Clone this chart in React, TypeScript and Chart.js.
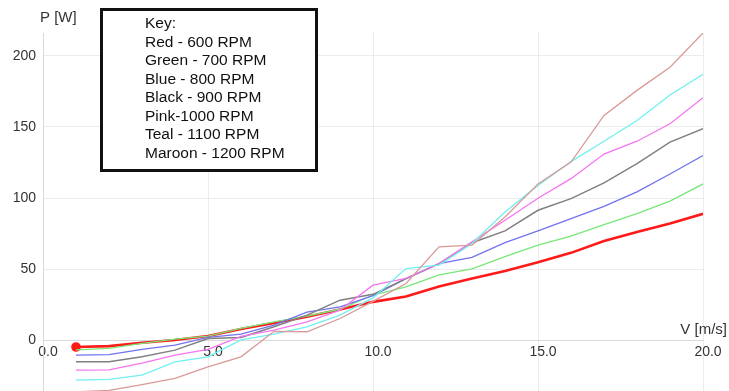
import React, { useEffect, useRef } from "react";
import { Chart, registerables } from "chart.js";

Chart.register(...registerables);

// Wind speed V [m/s]
const speeds = [1, 2, 3, 4, 5, 6, 7, 8, 9, 10, 11, 12, 13, 14, 15, 16, 17, 18, 19, 20];

// Power P [W] per rotor speed
const rpm600 = [-4.5, -3.9, -1.5, 0.4, 3.2, 8.1, 12.3, 16.7, 21.8, 27.2, 31, 38, 43.6, 48.8, 55, 61.6, 70, 76.3, 82.2, 89];
const rpm700 = [-6.5, -5.5, -2, 1, 3.2, 8.5, 13.2, 17.2, 22, 32, 37.7, 46.2, 50.3, 59, 67, 73.3, 81.5, 89.2, 98, 110];
const rpm800 = [-10.2, -9.8, -6.2, -3.2, 2.2, 4.5, 10.9, 20, 23.7, 31.5, 43.5, 54.1, 58.5, 68.8, 77, 85.7, 94.3, 104.4, 117, 130];
const rpm900 = [-14.8, -14.8, -11.3, -6.7, 1.5, 2.2, 9.7, 17.9, 28.4, 32.5, 43.5, 54, 68.7, 77, 91.5, 99.7, 110.7, 124.3, 139.4, 148.8];
const rpm1000 = [-20.7, -20.5, -15.9, -10.2, -6.2, 3, 7.4, 13.2, 21.4, 38.9, 43.6, 54.1, 69.3, 84.5, 100, 113.7, 131, 140, 152.3, 170.5];
const rpm1100 = [-27.7, -27.2, -24.2, -14.9, -11.4, 0.5, 4.6, 9.7, 17.9, 30, 50.6, 53, 68.2, 90.3, 109, 125.7, 140, 154.6, 172.5, 187];
const rpm1200 = [-36, -35, -31, -26.5, -18.4, -11.4, 6.5, 6.2, 15.5, 27.5, 40.1, 65.8, 67, 86.8, 110, 125.4, 158.1, 175.7, 192, 216];

const seriesNames = ["600 RPM", "700 RPM", "800 RPM", "900 RPM", "1000 RPM", "1100 RPM", "1200 RPM"];
const seriesValues = [rpm600, rpm700, rpm800, rpm900, rpm1000, rpm1100, rpm1200];
const seriesColors = ["#ff1a1a", "#78e878", "#7272f0", "#808080", "#f575f0", "#70f0f0", "#d99a98"];
const seriesWidths = [2.6, 1.3, 1.3, 1.5, 1.3, 1.3, 1.3];

const yTicks = [0, 50, 100, 150, 200];
const xTicks = [0, 5, 10, 15, 20];

const keyLines = [
  "Key:",
  "Red - 600 RPM",
  "Green - 700 RPM",
  "Blue - 800 RPM",
  "Black - 900 RPM",
  "Pink-1000 RPM",
  "Teal - 1100 RPM",
  "Maroon - 1200 RPM",
];

const yTitle = "P [W]";
const xTitle = "V [m/s]";

const FONT = "'Liberation Sans', Arial, sans-serif";

const overlayPlugin = {
  id: "overlay",
  afterDraw(chart: any) {
    const ctx = chart.ctx as CanvasRenderingContext2D;
    ctx.save();
    // axis titles
    ctx.fillStyle = "#333333";
    ctx.font = `15px ${FONT}`;
    ctx.textBaseline = "middle";
    ctx.textAlign = "left";
    ctx.fillText(yTitle, 40, 18);
    ctx.textAlign = "right";
    ctx.fillText(xTitle, 727, 330);

    // key box
    ctx.fillStyle = "#ffffff";
    ctx.fillRect(101, 9, 216, 162);
    ctx.strokeStyle = "#111111";
    ctx.lineWidth = 3;
    ctx.strokeRect(101.5, 9.5, 215, 161);
    ctx.fillStyle = "#111111";
    ctx.font = `15.5px ${FONT}`;
    ctx.textAlign = "left";
    ctx.textBaseline = "middle";
    keyLines.forEach((t, i) => {
      ctx.fillText(t, 145, 24 + i * 18.5);
    });
    ctx.restore();
  },
};

export default function App() {
  const ref = useRef<HTMLCanvasElement | null>(null);

  useEffect(() => {
    if (!ref.current) return;
    const datasets = seriesValues.map((vals, si) => ({
      label: seriesNames[si],
      data: vals.map((y, i) => ({ x: speeds[i], y })),
      borderColor: seriesColors[si],
      backgroundColor: seriesColors[si],
      borderWidth: seriesWidths[si],
      pointRadius: si === 0 ? (c: any) => (c.dataIndex === 0 ? 3.5 : 0) : 0,
      pointHoverRadius: 0,
      tension: 0,
      fill: false,
      order: 7 - si,
    }));

    const tickFont = { family: FONT, size: 14 };
    const chart = new Chart(ref.current, {
      type: "line",
      data: { datasets },
      plugins: [overlayPlugin],
      options: {
        responsive: false,
        animation: false,
        layout: { autoPadding: false, padding: { top: 33, right: 26, bottom: 0, left: 0 } },
        plugins: { legend: { display: false }, tooltip: { enabled: false } },
        scales: {
          x: {
            type: "linear",
            position: { y: 0 } as any,
            min: 0,
            max: 20,
            afterBuildTicks: (s: any) => {
              s.ticks = xTicks.map((v) => ({ value: v }));
            },
            afterFit: (s: any) => {
              s.height = 0;
              s.paddingTop = 0;
              s.paddingBottom = 0;
            },
            ticks: {
              font: tickFont,
              color: "#333333",
              padding: 3,
              labelOffset: 5,
              maxRotation: 0,
              autoSkip: false,
              callback: (v: any) => Number(v).toFixed(1),
            },
            grid: { color: "#ececec", drawTicks: false, lineWidth: 1 },
            border: { color: "#d9d9d9" },
          },
          y: {
            type: "linear",
            position: "left",
            min: -35.4,
            max: 216,
            afterBuildTicks: (s: any) => {
              s.ticks = yTicks.map((v) => ({ value: v }));
            },
            afterFit: (s: any) => {
              s.width = 43;
              s.paddingTop = 0;
              s.paddingBottom = 0;
            },
            ticks: { font: tickFont, color: "#333333", padding: 7 },
            grid: { color: "#ececec", drawTicks: false, lineWidth: 1 },
            border: { color: "#d9d9d9" },
          },
        },
      },
    });
    return () => chart.destroy();
  }, []);

  return (
    <div style={{ position: "absolute", left: 0, top: 0, width: 729, height: 391, background: "#ffffff" }}>
      <canvas ref={ref} width={729} height={391} style={{ display: "block" }} />
    </div>
  );
}
